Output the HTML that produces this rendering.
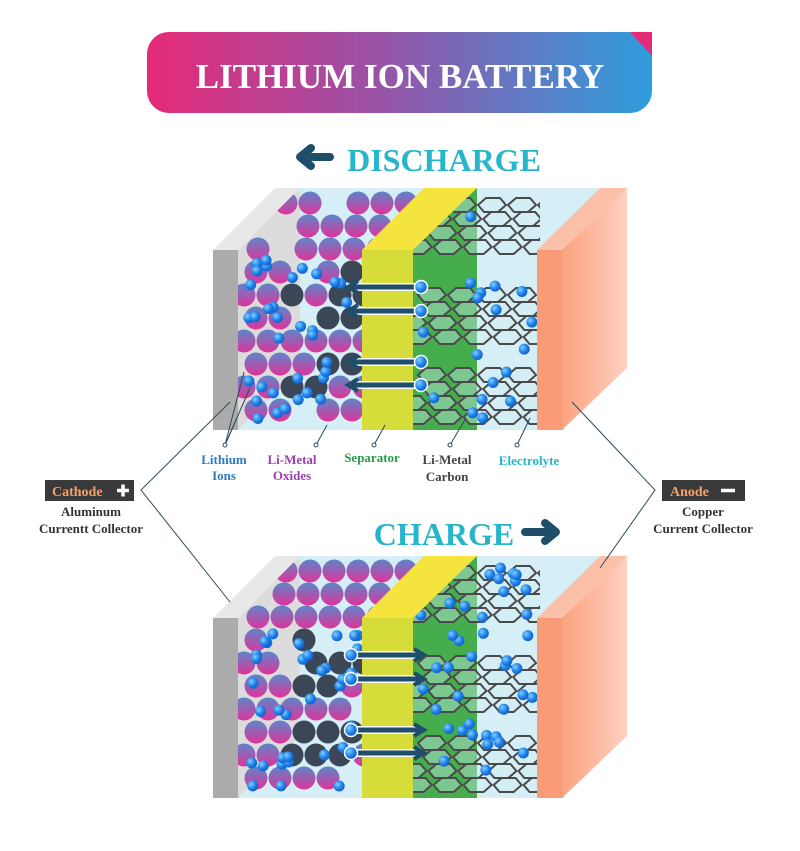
<!DOCTYPE html>
<html><head><meta charset="utf-8"><style>
body{margin:0;background:#fff;width:800px;height:851px;overflow:hidden}
svg{display:block}
.l{font-family:"Liberation Serif",serif;font-weight:bold;font-size:13px;text-anchor:middle}
</style></head><body>
<svg id="s" width="800" height="851" viewBox="0 0 800 851" xmlns="http://www.w3.org/2000/svg">
<defs>
<linearGradient id="tg" x1="0" x2="1" y1="0" y2="0"><stop offset="0" stop-color="#e52a78"/><stop offset="0.45" stop-color="#9a52a6"/><stop offset="1" stop-color="#2e9ddd"/></linearGradient>
<linearGradient id="sp" x1="0" x2="0" y1="0" y2="1"><stop offset="0" stop-color="#5b86c9"/><stop offset="1" stop-color="#e0339a"/></linearGradient>
<radialGradient id="bd" cx="0.35" cy="0.35" r="0.7"><stop offset="0" stop-color="#7fd0ff"/><stop offset="0.6" stop-color="#1e7fe8"/><stop offset="1" stop-color="#0f5fc8"/></radialGradient>
<linearGradient id="cu" x1="0" x2="1"><stop offset="0" stop-color="#fba37e"/><stop offset="1" stop-color="#fdd0c0"/></linearGradient>
<clipPath id="c1"><polygon points="238,430 238,250 300,188 430,188 362,250 362,430"/></clipPath>
<clipPath id="c2"><polygon points="413,430 413,250 477,188 540,188 540,430"/></clipPath>
<clipPath id="c3"><polygon points="238,798 238,618 300,556 430,556 362,618 362,798"/></clipPath>
<clipPath id="c4"><polygon points="413,798 413,618 477,556 540,556 540,798"/></clipPath>
</defs>
<rect x="147" y="32" width="505" height="81" rx="22" fill="url(#tg)"/>
<polygon points="630,32 652,32 652,56" fill="#e52a78"/>
<text x="400" y="88" fill="#fff" font-family="Liberation Serif,serif" font-weight="bold" font-size="35" text-anchor="middle">LITHIUM ION BATTERY</text>
<path d="M330,157 H302 M311,148 L300,157 L311,166" stroke="#1f4e6b" stroke-width="8" fill="none" stroke-linecap="round" stroke-linejoin="round"/>
<text x="444" y="171" fill="#27b5cb" font-family="Liberation Serif,serif" font-weight="bold" font-size="32" text-anchor="middle">DISCHARGE</text>
<text x="444" y="545" fill="#27b5cb" font-family="Liberation Serif,serif" font-weight="bold" font-size="32" text-anchor="middle">CHARGE</text>
<path d="M525,532 H555 M545,523 L556,532 L545,541" stroke="#1f4e6b" stroke-width="8" fill="none" stroke-linecap="round" stroke-linejoin="round"/>
<g id="b1"></g><g id="b2"></g>
<g stroke="#2d4a5a" stroke-width="1" fill="none">
<polyline points="230,402 141,490 230,602"/>
<polyline points="572,402 655,490 600,568"/>
<line x1="225" y1="445" x2="244" y2="372"/><line x1="225" y1="445" x2="250" y2="388"/><line x1="225" y1="445" x2="236" y2="420"/>
<line x1="316" y1="445" x2="327" y2="425"/><line x1="374" y1="445" x2="385" y2="425"/><line x1="450" y1="445" x2="466" y2="418"/><line x1="517" y1="445" x2="530" y2="418"/>
</g>
<g fill="#fff" stroke="#2d4a5a"><circle cx="225" cy="445" r="2"/><circle cx="316" cy="445" r="2"/><circle cx="374" cy="445" r="2"/><circle cx="450" cy="445" r="2"/><circle cx="517" cy="445" r="2"/></g>
<text class="l" x="224" y="464" fill="#2a7cc0">Lithium</text><text class="l" x="224" y="480" fill="#2a7cc0">Ions</text>
<text class="l" x="292" y="464" fill="#9b3fae">Li-Metal</text><text class="l" x="292" y="480" fill="#9b3fae">Oxides</text>
<text class="l" x="372" y="462" fill="#2a9a4a">Separator</text>
<text class="l" x="447" y="464" fill="#444">Li-Metal</text><text class="l" x="447" y="481" fill="#444">Carbon</text>
<text class="l" x="529" y="465" fill="#27b5cb">Electrolyte</text>
<rect x="45" y="480" width="89" height="21" fill="#3a3a3a"/>
<text x="52" y="496" fill="#f6a06a" font-family="Liberation Serif,serif" font-weight="bold" font-size="14">Cathode</text>
<path d="M117,490.5 h12 M123,484.5 v12" stroke="#fff" stroke-width="3.5"/>
<text class="l" x="91" y="516" fill="#333">Aluminum</text><text class="l" x="91" y="533" fill="#333">Currentt Collector</text>
<rect x="662" y="480" width="83" height="21" fill="#3a3a3a"/>
<text x="670" y="496" fill="#f6a06a" font-family="Liberation Serif,serif" font-weight="bold" font-size="14">Anode</text>
<path d="M721,490.5 h14" stroke="#fff" stroke-width="3.5"/>
<text class="l" x="703" y="516" fill="#333">Copper</text><text class="l" x="703" y="533" fill="#333">Current Collector</text>
</svg>
<script>
var NS="http://www.w3.org/2000/svg";
function el(p,t,a){var e=document.createElementNS(NS,t);for(var k in a)e.setAttribute(k,a[k]);p.appendChild(e);return e;}
function bat(g,dy,dis,c1,c2,seed){
 var r=seed;function rnd(){r=(r*9301+49297)%233280;return r/233280;}
 function P(pts){return pts.map(function(p){return p[0]+","+(p[1]+dy)}).join(" ");}
 el(g,"polygon",{points:P([[238,250],[300,188],[627,188],[565,250],[565,430],[238,430]]),fill:"#d6eef6"});
 el(g,"polygon",{points:P([[238,250],[300,188],[300,368],[238,430]]),fill:"#dcdcdc"});
 el(g,"polygon",{points:P([[213,250],[275,188],[300,188],[238,250]]),fill:"#e8e8e8"});
 el(g,"rect",{x:213,y:250+dy,width:25,height:180,fill:"#ababab"});
 var gs=el(g,"g",{"clip-path":"url(#"+c1+")"});
 for(var row=0;row<10;row++){var y=203+row*23;var off=(row%2)*12;
  for(var x=244+off+(row<3?(3-row)*14:0);x<420;x+=24){
   if(rnd()<0.12)continue;
   var dark=((y>270&&y<340)||(y>355&&y<400))&&x>285&&x<365&&rnd()<0.8;
   el(gs,"circle",{cx:x,cy:y+dy,r:11.5,fill:dark?"#3b4656":"url(#sp)"});}}
 for(var i=0;i<34;i++){el(gs,"circle",{cx:248+rnd()*110,cy:260+dy+rnd()*160,r:5.5,fill:"url(#bd)"});}
 el(g,"polygon",{points:P([[362,250],[424,188],[477,188],[413,250]]),fill:"#f6e43e"});
 el(g,"rect",{x:362,y:250+dy,width:51,height:180,fill:"#d6dc3a"});
 el(g,"polygon",{points:P([[413,250],[477,188],[477,430],[413,430]]),fill:"#45ad4c"});
 var ga=el(g,"g",{"clip-path":"url(#"+c2+")"});
 var bands=[[205,250],[295,345],[375,425]];
 bands.forEach(function(b){
  var k=0;
  for(var yy=b[0];yy<b[1];yy+=14,k++){for(var xx=432+(k%2?15:0)-(yy-b[0])*0.7;xx<560;xx+=30){
   var cx=xx,cy=yy+dy;
   el(ga,"polygon",{points:[[cx-14,cy],[cx-6,cy-7],[cx+8,cy-7],[cx+14,cy],[cx+6,cy+7],[cx-8,cy+7]].map(function(p){return p.join(",")}).join(" "),fill:"rgba(210,238,248,0.4)",stroke:"#4a4a4a","stroke-width":2});}}
 });
 var n=dis?18:40;
 for(var i=0;i<n;i++){el(ga,"circle",{cx:420+rnd()*115,cy:200+dy+rnd()*220,r:5.5,fill:"url(#bd)"});}
 el(g,"rect",{x:537,y:250+dy,width:25,height:180,fill:"#fa9b78"});
 el(g,"polygon",{points:P([[562,250],[627,188],[627,368],[562,430]]),fill:"url(#cu)"});
 el(g,"polygon",{points:P([[537,250],[600,188],[627,188],[562,250]]),fill:"#fcc0a8"});
 var ys=[287,311,362,385];
 ys.forEach(function(y){
  if(dis){el(g,"line",{x1:420,y1:y+dy,x2:352,y2:y+dy,stroke:"#fff","stroke-width":8});
   el(g,"line",{x1:420,y1:y+dy,x2:352,y2:y+dy,stroke:"#1f4e6b","stroke-width":5});
   el(g,"path",{d:"M358,"+(y+dy-6)+" L348,"+(y+dy)+" L358,"+(y+dy+6),stroke:"#1f4e6b","stroke-width":4,fill:"none"});
   el(g,"circle",{cx:421,cy:y+dy,r:6.5,fill:"url(#bd)",stroke:"#fff","stroke-width":1.5});}
  else{el(g,"line",{x1:350,y1:y+dy,x2:422,y2:y+dy,stroke:"#fff","stroke-width":8});
   el(g,"line",{x1:350,y1:y+dy,x2:420,y2:y+dy,stroke:"#1f4e6b","stroke-width":5});
   el(g,"path",{d:"M414,"+(y+dy-6)+" L424,"+(y+dy)+" L414,"+(y+dy+6),stroke:"#1f4e6b","stroke-width":4,fill:"none"});
   el(g,"circle",{cx:351,cy:y+dy,r:6.5,fill:"url(#bd)",stroke:"#fff","stroke-width":1.5});}
 });
}
bat(document.getElementById("b1"),0,true,"c1","c2",7);
bat(document.getElementById("b2"),368,false,"c3","c4",19);
</script>
</body></html>
